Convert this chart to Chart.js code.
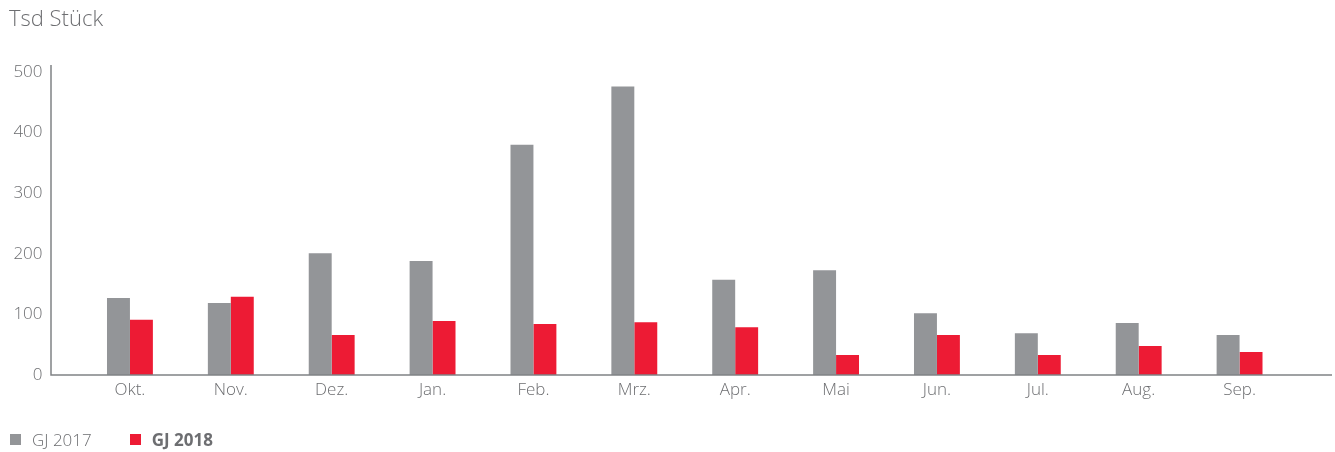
<!DOCTYPE html>
<html>
<head>
<meta charset="utf-8">
<script src="https://cdn.jsdelivr.net/npm/chart.js@4"></script>
<style>
  body { margin: 0; background: #fff; font-family: "Open Sans", sans-serif; color: #6d6e71; }
  #wrap { position: relative; width: 1335px; height: 452px; }
  #title { position: absolute; left: 9px; top: 2px; font-size: 22px; font-weight: 300; }
  #legend { position: absolute; left: 10px; top: 428px; font-size: 17px; display: flex; }
  .item { display: flex; align-items: center; margin-right: 38px; }
  .box { width: 11px; height: 11px; margin-right: 11px; }
  canvas { position: absolute; left: 0; top: 0; }
</style>
</head>
<body>
<div id="wrap">
  <canvas id="chart" width="1335" height="452"></canvas>
  <div id="title">Tsd Stück</div>
  <div id="legend">
    <div class="item"><span class="box" style="background:#939598"></span><span style="font-weight:300">GJ 2017</span></div>
    <div class="item"><span class="box" style="background:#ed1b34"></span><span style="font-weight:700">GJ 2018</span></div>
  </div>
</div>
<script>
const months = ["Okt.", "Nov.", "Dez.", "Jan.", "Feb.", "Mrz.", "Apr.", "Mai", "Jun.", "Jul.", "Aug.", "Sep."];
const gj2017 = [127, 119, 201, 188, 380, 476, 157, 173, 102, 69, 86, 66];
const gj2018 = [91, 129, 66, 89, 84, 87, 79, 33, 66, 33, 48, 38];
const yTicks = [0, 100, 200, 300, 400, 500];

// axis lines sit a bit outside the bar area, like in the print layout
const axisLines = {
  id: 'axisLines',
  afterDraw(chart) {
    const a = chart.chartArea;
    const ctx = chart.ctx;
    ctx.save();
    ctx.strokeStyle = '#808285';
    ctx.lineWidth = 1.5;
    ctx.beginPath();
    ctx.moveTo(51, a.top - 7);
    ctx.lineTo(51, a.bottom);
    ctx.lineTo(1332, a.bottom);
    ctx.stroke();
    ctx.restore();
  }
};

const tickFont = { family: 'Open Sans', size: 17, weight: 300 };

new Chart(document.getElementById('chart'), {
  type: 'bar',
  data: {
    labels: months,
    datasets: [
      { label: 'GJ 2017', data: gj2017, backgroundColor: '#939598' },
      { label: 'GJ 2018', data: gj2018, backgroundColor: '#ed1b34' }
    ]
  },
  options: {
    responsive: false,
    animation: false,
    layout: { padding: { top: 72, right: 45, bottom: 0, left: 0 } },
    datasets: { bar: { categoryPercentage: 0.455, barPercentage: 1 } },
    scales: {
      x: {
        grid: { display: false, drawTicks: false },
        border: { display: false },
        ticks: { color: '#6d6e71', font: tickFont, padding: 5 },
        afterFit(s) { s.height = 77; }
      },
      y: {
        min: 0, max: 500,
        afterBuildTicks(s) { s.ticks = yTicks.map(v => ({ value: v })); },
        grid: { display: false, drawTicks: false },
        border: { display: false },
        ticks: { color: '#6d6e71', font: tickFont, padding: 37 },
        afterFit(s) { s.width = 79.5; }
      }
    },
    plugins: { legend: { display: false }, tooltip: { enabled: false } }
  },
  plugins: [axisLines]
});
</script>
</body>
</html>
